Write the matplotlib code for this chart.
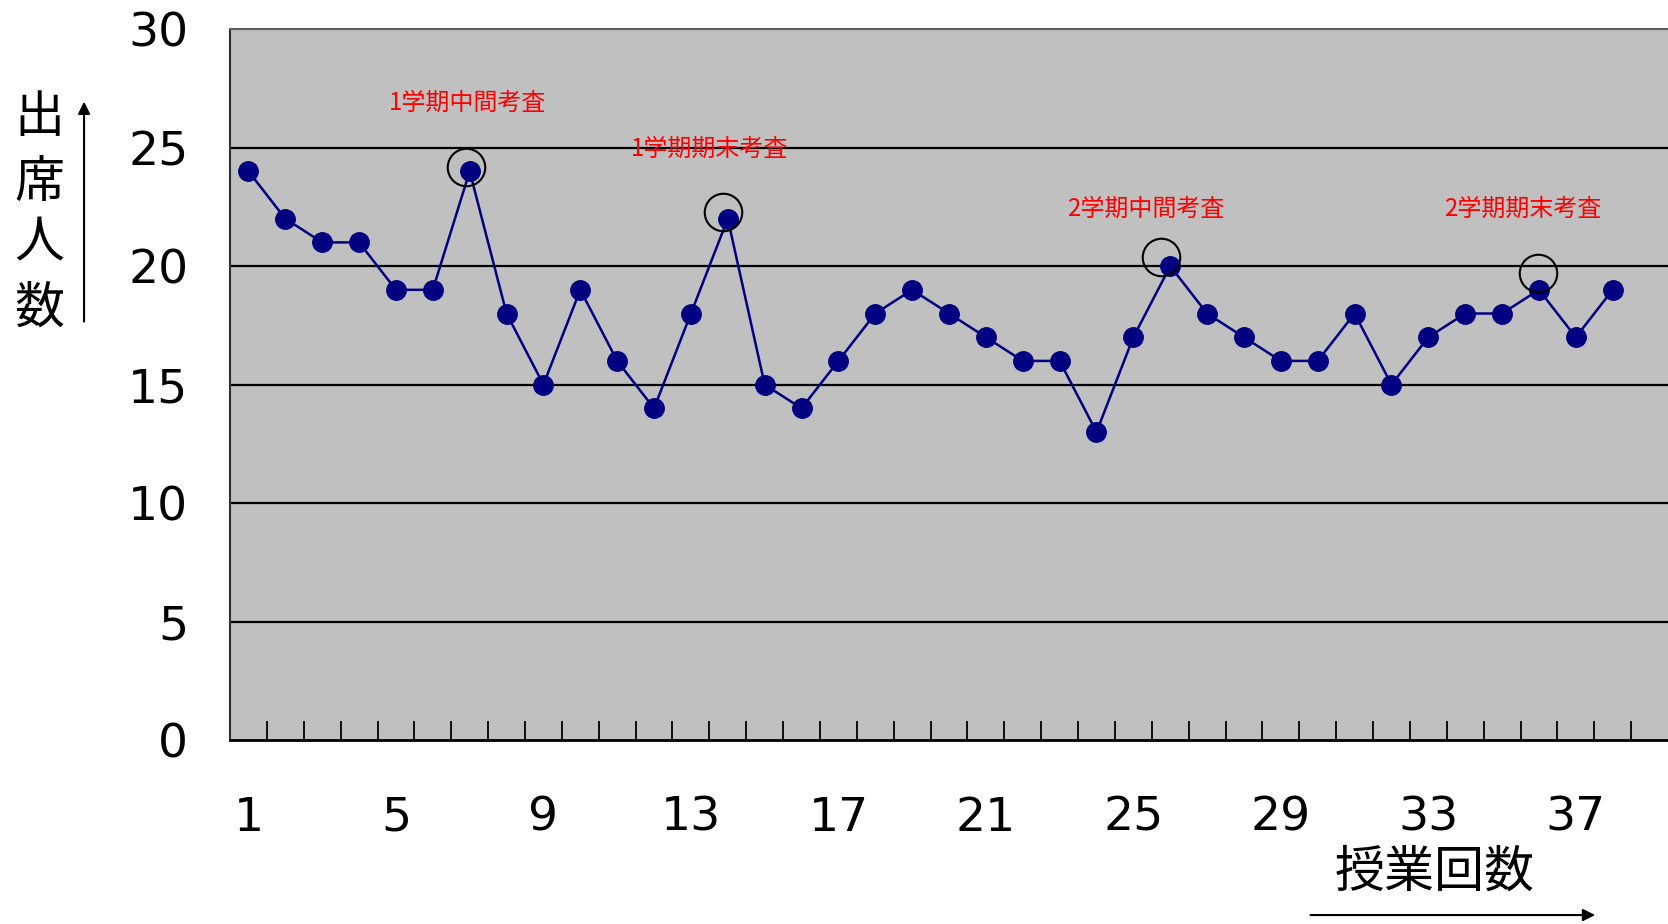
import matplotlib
matplotlib.use("Agg")
import matplotlib.pyplot as plt
from matplotlib import font_manager
from matplotlib.patches import FancyArrowPatch

# Attendance per lesson
lessons = list(range(1, 39))
attendance = [24, 22, 21, 21, 19, 19, 24, 18, 15, 19, 16, 14, 18, 22, 15, 14, 16,
              18, 19, 18, 17, 16, 16, 13, 17, 20, 18, 17, 16, 16, 18, 15, 17, 18,
              18, 19, 17, 19]

# Exam sessions marked on the chart
exam_lessons = [7, 14, 26, 36]
exam_labels = ["1学期中間考査", "1学期期末考査", "2学期中間考査", "2学期期末考査"]

y_ticks = [0, 5, 10, 15, 20, 25, 30]
x_tick_labels = [1, 5, 9, 13, 17, 21, 25, 29, 33, 37]

ylabel_chars = ["出", "席", "人", "数"]
xlabel_text = "授業回数"

installed = {f.name for f in font_manager.fontManager.ttflist}
num_font = "Liberation Sans Narrow" if "Liberation Sans Narrow" in installed else "DejaVu Sans"
cjk = ["Noto Sans CJK JP", "DejaVu Sans"]
plt.rcParams["font.family"] = cjk

fig = plt.figure(figsize=(16.68, 9.24), dpi=100)
ax = fig.add_axes([0.1379, 0.199, 0.8621, 0.7695])
ax.set_facecolor("#C0C0C0")

ax.set_xlim(0.5, 39.5)
ax.set_ylim(0, 30)

for v in y_ticks[1:-1]:
    ax.axhline(v, color="black", lw=1.6, zorder=1)

ax.plot(lessons, attendance, color="#000080", lw=1.8, marker="o",
        markersize=14, markerfacecolor="#000080", markeredgecolor="#000080", zorder=3)

# circles and labels around exam peaks
circle_offsets = [(-0.1, 0.17), (-0.13, 0.29), (-0.26, 0.4), (-0.02, 0.73)]
label_offsets = [(-0.07, 2.9), (-0.5, 2.93), (-0.66, 2.4), (-0.43, 3.4)]
for lesson, label, (cdx, cdy), (ldx, ldy) in zip(exam_lessons, exam_labels,
                                                 circle_offsets, label_offsets):
    val = attendance[lessons.index(lesson)]
    ax.plot(lesson + cdx, val + cdy, marker="o", markersize=27,
            markerfacecolor="none", markeredgecolor="black", markeredgewidth=1.5,
            zorder=4)
    ax.text(lesson + ldx, val + ldy, label, color="red", fontsize=17.3,
            ha="center", va="center", family=cjk, zorder=5)

ax.set_yticks(y_ticks)
ax.set_yticklabels([str(v) for v in y_ticks], fontsize=34, family=num_font)
ax.tick_params(axis="y", length=0, pad=30)

ax.set_xticks([v + 0.5 for v in range(1, 39)])
ax.set_xticklabels([])
ax.tick_params(axis="x", direction="in", length=14, width=1.3, color="black")
for v in x_tick_labels:
    ax.text(v, -3.3, str(v), fontsize=34, family=num_font, ha="center", va="center")

ax.spines["right"].set_visible(False)
ax.spines["top"].set_color("#606060")
ax.spines["top"].set_linewidth(1.5)
ax.spines["left"].set_color("#303030")
ax.spines["left"].set_linewidth(1.5)
ax.spines["bottom"].set_color("black")
ax.spines["bottom"].set_linewidth(2)

# vertical axis title with upward arrow
char_y = [0.872, 0.802, 0.736, 0.666]
for ch, yy in zip(ylabel_chars, char_y):
    fig.text(0.0236, yy, ch, fontsize=36, ha="center", va="center", family=cjk)
fig.add_artist(FancyArrowPatch((0.0504, 0.649), (0.0504, 0.893),
                               transform=fig.transFigure, arrowstyle="-|>",
                               mutation_scale=18, lw=1.5, color="black"))

# horizontal axis title with rightward arrow
fig.text(0.860, 0.056, xlabel_text, fontsize=36, ha="center", va="center", family=cjk)
fig.add_artist(FancyArrowPatch((0.784, 0.0097), (0.958, 0.0097),
                               transform=fig.transFigure, arrowstyle="-|>",
                               mutation_scale=18, lw=1.5, color="black"))

fig.savefig("out.png", dpi=100)
